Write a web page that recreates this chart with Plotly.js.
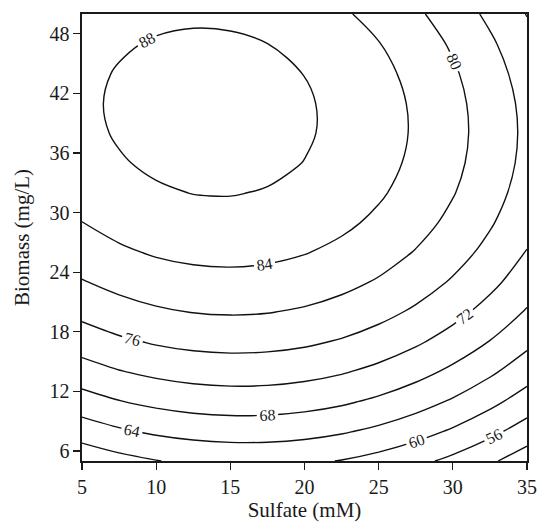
<!DOCTYPE html>
<html>
<head>
<meta charset="utf-8">
<script src="https://cdn.plot.ly/plotly-3.0.1.min.js"></script>
<style>
  html, body { margin: 0; padding: 0; background: #fff; }
  #chart { width: 537px; height: 524px; }
</style>
</head>
<body>
<div id="chart"></div>
<script>
// Sulfate (mM) grid positions
const sulfate = [5, 7.5, 10, 12.5, 15, 17.5, 20, 22.5, 25, 27.5, 30, 32.5, 35];
// Biomass (mg/L) grid positions
const biomass = [5, 8, 11, 14, 17, 20, 23, 26, 29, 32, 35, 38, 41, 44, 47, 50];
// Response values (rows follow biomass, columns follow sulfate)
const response = [
  [57.10, 58.69, 59.89, 60.68, 61.08, 61.07, 60.66, 59.85, 58.65, 57.04, 55.03, 52.62, 49.81],
  [61.92, 63.48, 64.64, 65.40, 65.76, 65.72, 65.28, 64.43, 63.19, 61.55, 59.50, 57.06, 54.21],
  [66.33, 67.86, 68.98, 69.70, 70.03, 69.95, 69.47, 68.60, 67.32, 65.64, 63.56, 61.08, 58.20],
  [70.32, 71.81, 72.89, 73.58, 73.87, 73.76, 73.25, 72.34, 71.02, 69.31, 67.20, 64.68, 61.77],
  [73.88, 75.34, 76.39, 77.05, 77.30, 77.15, 76.61, 75.66, 74.31, 72.56, 70.41, 67.87, 64.92],
  [77.03, 78.45, 79.47, 80.09, 80.31, 80.13, 79.55, 78.56, 77.18, 75.40, 73.21, 70.63, 67.64],
  [79.76, 81.14, 82.13, 82.71, 82.90, 82.68, 82.06, 81.05, 79.63, 77.81, 75.59, 72.97, 69.95],
  [82.07, 83.42, 84.37, 84.92, 85.07, 84.82, 84.16, 83.11, 81.66, 79.80, 77.55, 74.90, 71.84],
  [83.96, 85.27, 86.19, 86.70, 86.82, 86.53, 85.84, 84.75, 83.27, 81.38, 79.09, 76.40, 73.31],
  [85.43, 86.71, 87.59, 88.07, 88.15, 87.82, 87.10, 85.98, 84.46, 82.53, 80.21, 77.49, 74.36],
  [86.48, 87.72, 88.57, 89.01, 89.06, 88.70, 87.94, 86.79, 85.23, 83.27, 80.91, 78.15, 74.99],
  [87.11, 88.32, 89.13, 89.54, 89.55, 89.16, 88.37, 87.17, 85.58, 83.59, 81.19, 78.40, 75.20],
  [87.32, 88.50, 89.27, 89.65, 89.62, 89.19, 88.37, 87.14, 85.51, 83.48, 81.05, 78.23, 75.00],
  [87.11, 88.25, 88.99, 89.33, 89.27, 88.81, 87.95, 86.69, 85.02, 82.96, 80.50, 77.63, 74.37],
  [86.49, 87.59, 88.30, 88.60, 88.51, 88.01, 87.11, 85.82, 84.12, 82.02, 79.52, 76.62, 73.32],
  [85.44, 86.51, 87.18, 87.45, 87.32, 86.79, 85.86, 84.52, 82.79, 80.66, 78.13, 75.19, 71.86]
];
// Axis tick values
const xTicks = [5, 10, 15, 20, 25, 30, 35];
const yTicks = [6, 12, 18, 24, 30, 36, 42, 48];

const serif = 'Liberation Serif, Times New Roman, serif';

const trace = {
  type: 'contour',
  x: sulfate,
  y: biomass,
  z: response,
  autocontour: false,
  contours: {
    start: 52,
    end: 88,
    size: 4,
    coloring: 'none',
    showlabels: true,
    labelfont: { family: serif, size: 16, color: '#1a1a1a' }
  },
  line: { color: '#111', width: 1.4, smoothing: 1 },
  showscale: false,
  hoverinfo: 'skip'
};

const axisCommon = {
  showline: true,
  linecolor: '#1a1a1a',
  linewidth: 1.6,
  mirror: true,
  ticks: 'outside',
  ticklen: 7,
  tickwidth: 1.2,
  tickcolor: '#1a1a1a',
  showgrid: false,
  zeroline: false,
  tickfont: { family: serif, size: 20, color: '#1a1a1a' }
};

const layout = {
  width: 537,
  height: 524,
  margin: { l: 81.5, r: 10, t: 13.5, b: 63 },
  paper_bgcolor: '#fff',
  plot_bgcolor: '#fff',
  showlegend: false,
  xaxis: Object.assign({}, axisCommon, {
    range: [5, 35],
    tickvals: xTicks,
    ticktext: xTicks.map(String),
    title: { text: 'Sulfate (mM)', font: { family: serif, size: 21, color: '#1a1a1a' }, standoff: 5 }
  }),
  yaxis: Object.assign({}, axisCommon, {
    range: [5, 50],
    tickvals: yTicks,
    ticktext: yTicks.map(String),
    title: { text: 'Biomass (mg/L)', font: { family: serif, size: 21, color: '#1a1a1a' }, standoff: 14 }
  })
};

Plotly.newPlot('chart', [trace], layout, { staticPlot: true, displayModeBar: false });
</script>
</body>
</html>
